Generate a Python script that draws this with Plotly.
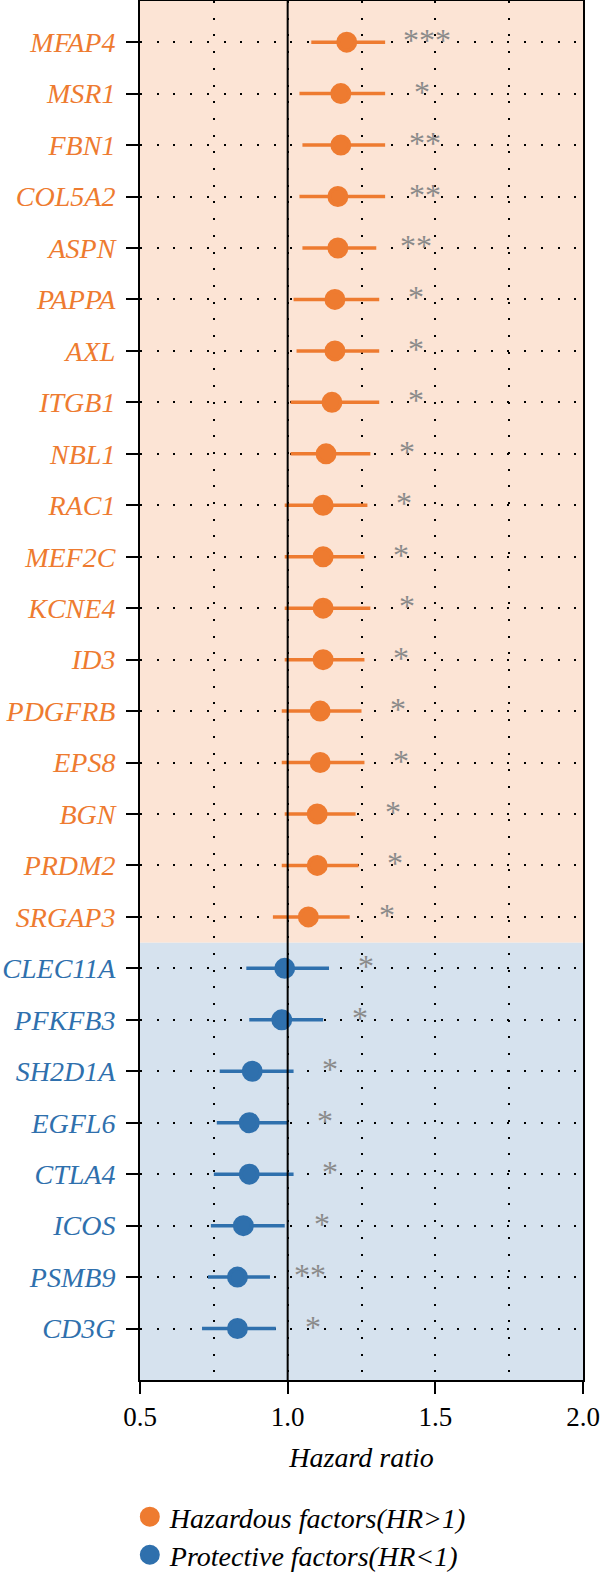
import plotly.graph_objects as go

genes = ["MFAP4", "MSR1", "FBN1", "COL5A2", "ASPN", "PAPPA", "AXL", "ITGB1", "NBL1",
         "RAC1", "MEF2C", "KCNE4", "ID3", "PDGFRB", "EPS8", "BGN", "PRDM2", "SRGAP3",
         "CLEC11A", "PFKFB3", "SH2D1A", "EGFL6", "CTLA4", "ICOS", "PSMB9", "CD3G"]
hr = [1.20, 1.18, 1.18, 1.17, 1.17, 1.16, 1.16, 1.15, 1.13,
      1.12, 1.12, 1.12, 1.12, 1.11, 1.11, 1.10, 1.10, 1.07,
      0.99, 0.98, 0.88, 0.87, 0.87, 0.85, 0.83, 0.83]
lower = [1.08, 1.04, 1.05, 1.04, 1.05, 1.02, 1.03, 1.01, 1.01,
         0.99, 0.99, 0.99, 0.99, 0.98, 0.98, 0.99, 0.98, 0.95,
         0.86, 0.87, 0.77, 0.76, 0.75, 0.74, 0.73, 0.71]
upper = [1.33, 1.33, 1.33, 1.33, 1.30, 1.31, 1.31, 1.31, 1.28,
         1.27, 1.26, 1.28, 1.26, 1.25, 1.26, 1.23, 1.24, 1.21,
         1.14, 1.12, 1.02, 1.00, 1.02, 0.99, 0.94, 0.96]
stars = ["***", "*", "**", "**", "**", "*", "*", "*", "*",
         "*", "*", "*", "*", "*", "*", "*", "*", "*",
         "*", "*", "*", "*", "*", "*", "**", "*"]
groups = ["Hazardous factors(HR>1)"] * 18 + ["Protective factors(HR<1)"] * 8
x_ticks = [0.5, 1.0, 1.5, 2.0]

ORANGE = "#EE7B30"
BLUE = "#2F70AD"
BG_OR = "#FCE4D5"
BG_BL = "#D6E2EE"
STAR = "#8A8A8A"
FONT = "Liberation Serif"

n = len(genes)
ypos = [n - i for i in range(n)]
colors = {"Hazardous factors(HR>1)": ORANGE, "Protective factors(HR<1)": BLUE}
legend_ids = {"Hazardous factors(HR>1)": "legend", "Protective factors(HR<1)": "legend2"}

fig = go.Figure()
for g in ["Hazardous factors(HR>1)", "Protective factors(HR<1)"]:
    idx = [i for i in range(n) if groups[i] == g]
    c = colors[g]
    fig.add_trace(go.Scatter(
        x=[hr[i] for i in idx], y=[ypos[i] for i in idx], mode="markers", name=g,
        legend=legend_ids[g],
        marker=dict(size=17, color=c, line=dict(width=4, color=c)),
        error_x=dict(type="data", symmetric=False,
                     array=[upper[i] - hr[i] for i in idx],
                     arrayminus=[hr[i] - lower[i] for i in idx],
                     color=c, thickness=3.5, width=0),
        hoverinfo="skip"))

# background regions
n_haz = groups.count("Hazardous factors(HR>1)")
boundary = n - n_haz + 0.5
top = n + 0.8
fig.add_shape(type="rect", xref="paper", yref="y", x0=0, x1=1, y0=boundary, y1=top,
              fillcolor=BG_OR, line_width=0, layer="below")
fig.add_shape(type="rect", xref="paper", yref="y", x0=0, x1=1, y0=0, y1=boundary,
              fillcolor=BG_BL, line_width=0, layer="below")
# reference line at HR = 1
fig.add_shape(type="line", xref="x", yref="paper", x0=1, x1=1, y0=0, y1=1,
              line=dict(color="black", width=2), layer="above")

for i in range(n):
    fig.add_annotation(x=upper[i] + 0.125 + 0.009 * (len(stars[i]) - 1), y=ypos[i],
                       text=stars[i], showarrow=False, xanchor="center", yanchor="middle",
                       yshift=2,
                       font=dict(family=FONT, size=32, color=STAR))

ticktext = [f'<span style="color:{colors[groups[i]]}">{genes[i]}</span>' for i in range(n)]

dotdash = "2px,14.7px"
fig.update_xaxes(range=[0.5, 2.0], tickvals=x_ticks, ticktext=[f"{v:.1f}" for v in x_ticks],
                 showline=True, mirror=True, linecolor="black", linewidth=2,
                 ticks="outside", ticklen=12, tickwidth=2, tickcolor="black",
                 ticklabelstandoff=0,
                 tickfont=dict(family=FONT, size=27, color="black"),
                 showgrid=True, gridcolor="black", gridwidth=2, griddash=dotdash,
                 minor=dict(dtick=0.25, tick0=0.5, showgrid=True, gridcolor="black",
                            gridwidth=2, griddash=dotdash, ticks=""),
                 zeroline=False,
                 title=dict(text="Hazard ratio", standoff=16,
                            font=dict(family=FONT, size=28, color="black", style="italic")))
fig.update_yaxes(range=[0, top], tickvals=ypos, ticktext=ticktext,
                 showline=True, mirror=True, linecolor="black", linewidth=2,
                 ticks="outside", ticklen=12, tickwidth=2, tickcolor="black",
                 ticklabelstandoff=5,
                 tickfont=dict(family=FONT, size=28, style="italic"),
                 showgrid=True, gridcolor="black", gridwidth=2, griddash=dotdash,
                 zeroline=False)

legend_font = dict(family=FONT, size=28, color="black", style="italic")
fig.update_layout(
    width=600, height=1572,
    margin=dict(l=140, r=17, t=1, b=192, autoexpand=False),
    plot_bgcolor="rgba(0,0,0,0)", paper_bgcolor="white",
    showlegend=True,
    legend=dict(orientation="v", x=-0.023, xanchor="left", y=-0.0812, yanchor="top",
                font=legend_font, bgcolor="rgba(0,0,0,0)", borderwidth=0),
    legend2=dict(orientation="v", x=-0.023, xanchor="left", y=-0.1088, yanchor="top",
                 font=legend_font, bgcolor="rgba(0,0,0,0)", borderwidth=0),
)

fig.write_html("out.html")
